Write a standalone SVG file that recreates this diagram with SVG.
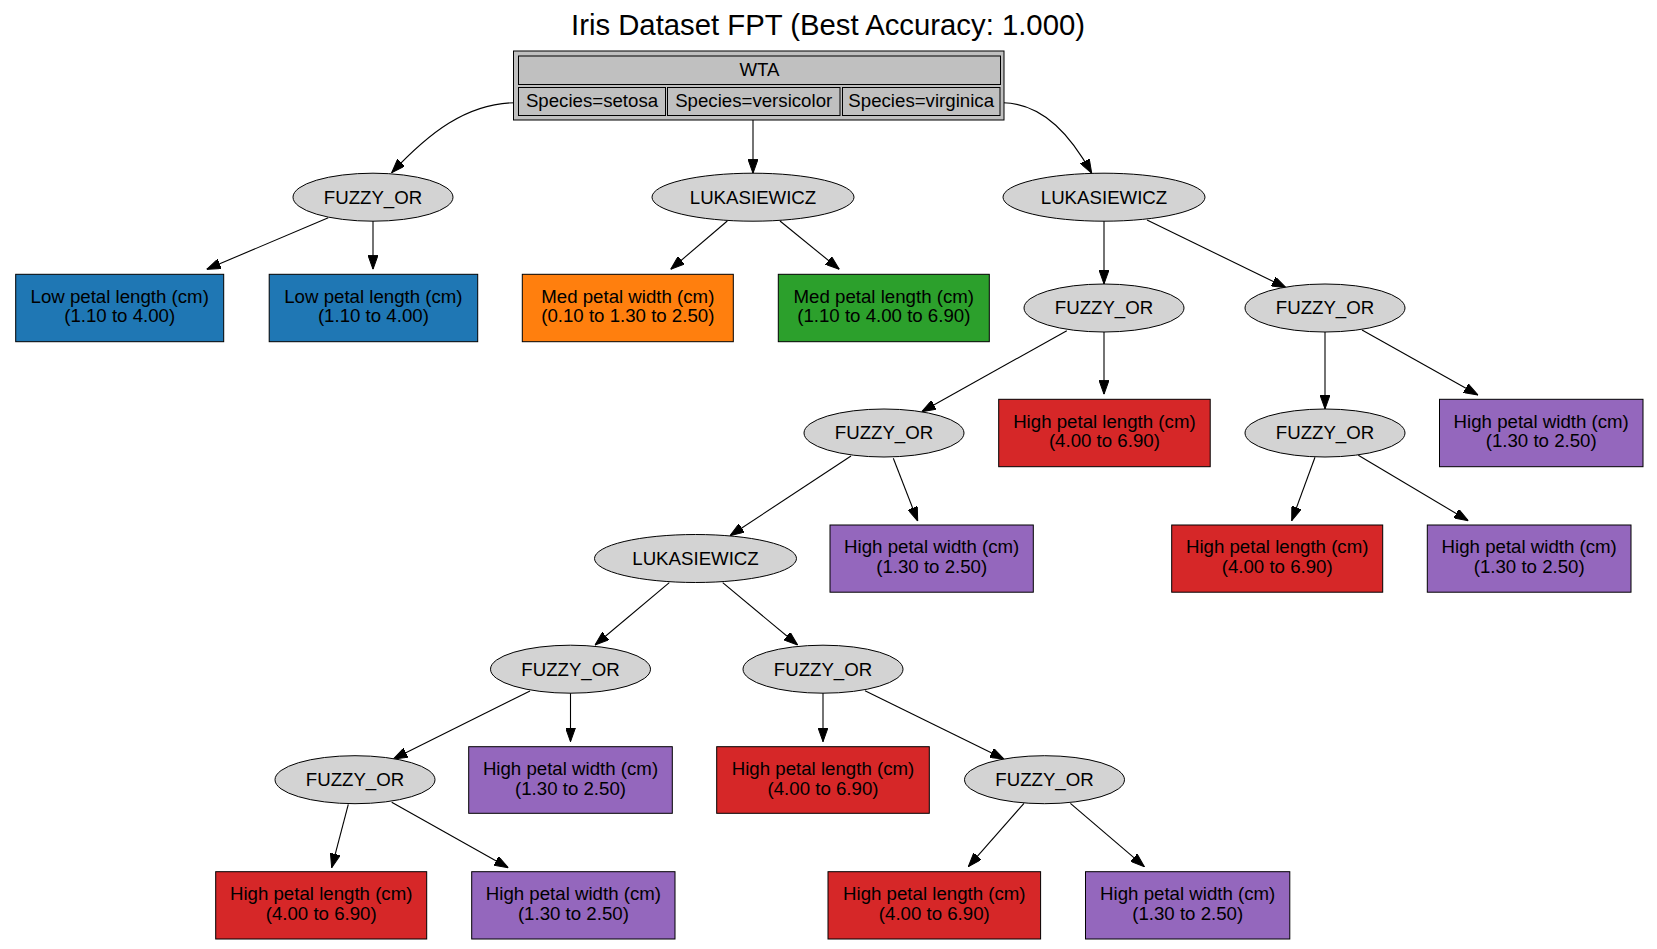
<svg xmlns="http://www.w3.org/2000/svg" width="1657" height="949" viewBox="0 0 1657 949">
<style>
text{font-family:"Liberation Sans",Arial,sans-serif;font-size:18.67px;fill:#000;text-anchor:middle}
.title{font-size:29.3px}
.el{fill:#d3d3d3;stroke:#000;stroke-width:1}
.bx{stroke:#000;stroke-width:1}
.wta{fill:#c0c0c0;stroke:#000;stroke-width:1}
.blue{fill:#1f77b4}.orange{fill:#ff7f0e}.green{fill:#2ca02c}.red{fill:#d62728}.purple{fill:#9467bd}
#edges path{fill:none;stroke:#000;stroke-width:1.1;marker-end:url(#ah)}
</style>
<defs>
<marker id="ah" markerUnits="userSpaceOnUse" markerWidth="14" markerHeight="10" refX="14" refY="5" orient="auto">
<path d="M0,0 L14,5 L0,10 z" fill="#000" stroke="#000" stroke-width="1"/>
</marker>
</defs>
<rect width="1657" height="949" fill="#fff"/>
<text class="title" x="828" y="35">Iris Dataset FPT (Best Accuracy: 1.000)</text>

<g id="edges">
<path d="M516,102.7 C466,103 428,134 391.7,172.7"/>
<path d="M753,116 L753,173.3"/>
<path d="M1003.3,102.7 C1045,104 1072,138 1091.7,173.3"/>
<path d="M328.3,217.7 L206.7,269.3"/>
<path d="M373,221 L373,269.3"/>
<path d="M727.3,221 L670.7,269.3"/>
<path d="M780,221 L839.3,269.3"/>
<path d="M1104,221 L1104,284"/>
<path d="M1147,220 L1286,287.7"/>
<path d="M1066.8,330.7 L921.7,411.7"/>
<path d="M1104,331.7 L1104,394.3"/>
<path d="M1325,331.7 L1325,409"/>
<path d="M1362,330 L1478,395"/>
<path d="M851,456 L730,535.7"/>
<path d="M893.3,458.3 L917.7,521"/>
<path d="M1315,457.3 L1291.7,520.7"/>
<path d="M1358.3,455.3 L1468.3,520.7"/>
<path d="M669.3,582.7 L595,645"/>
<path d="M722.7,582.7 L797.7,645"/>
<path d="M530,691 L393.3,759"/>
<path d="M570.5,692.7 L570.5,741.7"/>
<path d="M823,692.7 L823,741.7"/>
<path d="M865,690.7 L1004,759"/>
<path d="M348.3,804.3 L331.7,867.7"/>
<path d="M391.7,802.3 L508.3,867.7"/>
<path d="M1024,803.3 L968.3,866.7"/>
<path d="M1070.4,803.3 L1144.4,866.7"/>
</g>

<g id="wta">
<rect class="wta" x="513.5" y="51" width="490.5" height="69"/>
<rect class="wta" x="518.5" y="56" width="482" height="28.5"/>
<rect class="wta" x="518.5" y="87.5" width="147" height="28"/>
<rect class="wta" x="667.5" y="87.5" width="172.5" height="28"/>
<rect class="wta" x="842.5" y="87.5" width="157.5" height="28"/>
<text x="759.5" y="76">WTA</text>
<text x="592" y="107">Species=setosa</text>
<text x="753.7" y="107">Species=versicolor</text>
<text x="921.2" y="107">Species=virginica</text>
</g>

<g id="e1"><ellipse class="el" cx="373" cy="197.2" rx="80" ry="24"/><text x="373" y="203.5">FUZZY_OR</text></g>
<g id="e2"><ellipse class="el" cx="753" cy="197.2" rx="101" ry="24"/><text x="753" y="203.5">LUKASIEWICZ</text></g>
<g id="e3"><ellipse class="el" cx="1104" cy="197.2" rx="101" ry="24"/><text x="1104" y="203.5">LUKASIEWICZ</text></g>
<g id="e4"><ellipse class="el" cx="1104" cy="308" rx="80" ry="24"/><text x="1104" y="314.3">FUZZY_OR</text></g>
<g id="e5"><ellipse class="el" cx="1325" cy="308" rx="80" ry="24"/><text x="1325" y="314.3">FUZZY_OR</text></g>
<g id="e6"><ellipse class="el" cx="884" cy="433" rx="80" ry="24"/><text x="884" y="439.3">FUZZY_OR</text></g>
<g id="e7"><ellipse class="el" cx="1325" cy="433" rx="80" ry="24"/><text x="1325" y="439.3">FUZZY_OR</text></g>
<g id="e8"><ellipse class="el" cx="695.5" cy="558.5" rx="101" ry="24"/><text x="695.5" y="564.8">LUKASIEWICZ</text></g>
<g id="e9"><ellipse class="el" cx="570.5" cy="669.2" rx="80" ry="24"/><text x="570.5" y="675.5">FUZZY_OR</text></g>
<g id="e10"><ellipse class="el" cx="823" cy="669.2" rx="80" ry="24"/><text x="823" y="675.5">FUZZY_OR</text></g>
<g id="e11"><ellipse class="el" cx="355" cy="779.7" rx="80" ry="24"/><text x="355" y="786">FUZZY_OR</text></g>
<g id="e12"><ellipse class="el" cx="1044.5" cy="779.7" rx="80" ry="24"/><text x="1044.5" y="786">FUZZY_OR</text></g>

<g id="b1"><rect class="bx blue" x="15.7" y="274.3" width="208" height="67.4"/><text x="119.7" y="302.7">Low petal length (cm)</text><text x="119.7" y="322.4">(1.10 to 4.00)</text></g>
<g id="b2"><rect class="bx blue" x="269.2" y="274.3" width="208.5" height="67.4"/><text x="373.4" y="302.7">Low petal length (cm)</text><text x="373.4" y="322.4">(1.10 to 4.00)</text></g>
<g id="b3"><rect class="bx orange" x="522.3" y="274.3" width="211" height="67.4"/><text x="627.8" y="302.7">Med petal width (cm)</text><text x="627.8" y="322.4">(0.10 to 1.30 to 2.50)</text></g>
<g id="b4"><rect class="bx green" x="778.3" y="274.3" width="211" height="67.4"/><text x="883.8" y="302.7">Med petal length (cm)</text><text x="883.8" y="322.4">(1.10 to 4.00 to 6.90)</text></g>
<g id="b5"><rect class="bx red" x="998.7" y="399.3" width="211.5" height="67.4"/><text x="1104.4" y="427.7">High petal length (cm)</text><text x="1104.4" y="447.4">(4.00 to 6.90)</text></g>
<g id="b6"><rect class="bx purple" x="1439.5" y="399.3" width="203.5" height="67.4"/><text x="1541.2" y="427.7">High petal width (cm)</text><text x="1541.2" y="447.4">(1.30 to 2.50)</text></g>
<g id="b7"><rect class="bx purple" x="830" y="525" width="203.3" height="67.2"/><text x="931.7" y="553.4">High petal width (cm)</text><text x="931.7" y="573.1">(1.30 to 2.50)</text></g>
<g id="b8"><rect class="bx red" x="1171.7" y="525" width="211" height="67.2"/><text x="1277.2" y="553.4">High petal length (cm)</text><text x="1277.2" y="573.1">(4.00 to 6.90)</text></g>
<g id="b9"><rect class="bx purple" x="1427.3" y="525" width="203.7" height="67.2"/><text x="1529.2" y="553.4">High petal width (cm)</text><text x="1529.2" y="573.1">(1.30 to 2.50)</text></g>
<g id="b10"><rect class="bx purple" x="468.7" y="746.7" width="203.6" height="66.6"/><text x="570.5" y="774.8">High petal width (cm)</text><text x="570.5" y="794.5">(1.30 to 2.50)</text></g>
<g id="b11"><rect class="bx red" x="716.7" y="746.7" width="212.6" height="66.6"/><text x="823" y="774.8">High petal length (cm)</text><text x="823" y="794.5">(4.00 to 6.90)</text></g>
<g id="b12"><rect class="bx red" x="215.7" y="871.7" width="211" height="67.3"/><text x="321.2" y="900">High petal length (cm)</text><text x="321.2" y="919.7">(4.00 to 6.90)</text></g>
<g id="b13"><rect class="bx purple" x="471.7" y="871.7" width="203.3" height="67.3"/><text x="573.4" y="900">High petal width (cm)</text><text x="573.4" y="919.7">(1.30 to 2.50)</text></g>
<g id="b14"><rect class="bx red" x="828" y="871.7" width="212.6" height="67.3"/><text x="934.3" y="900">High petal length (cm)</text><text x="934.3" y="919.7">(4.00 to 6.90)</text></g>
<g id="b15"><rect class="bx purple" x="1085.5" y="871.7" width="204.3" height="67.3"/><text x="1187.7" y="900">High petal width (cm)</text><text x="1187.7" y="919.7">(1.30 to 2.50)</text></g>
</svg>
